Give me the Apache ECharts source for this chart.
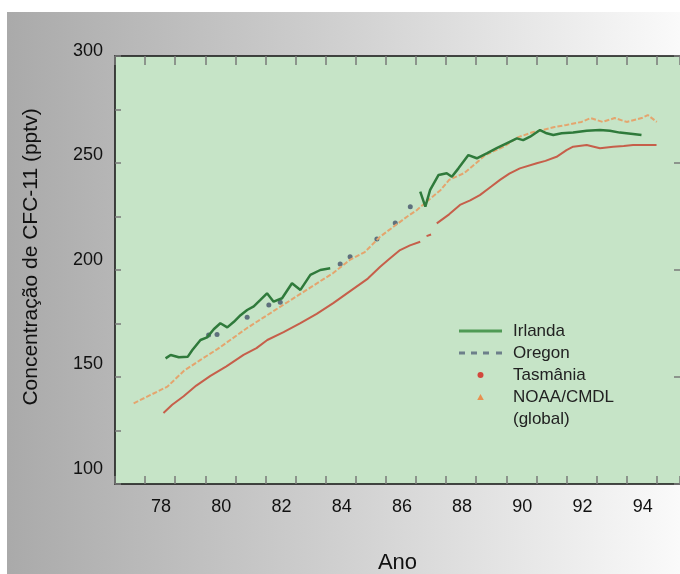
<!DOCTYPE html>
<html><head><meta charset="utf-8">
<script src="https://cdn.jsdelivr.net/npm/echarts@6/dist/echarts.min.js"></script>
<style>html,body{margin:0;padding:0;background:#fff}#c{width:680px;height:574px}</style>
</head><body><div id="c"></div>
<script>
// ---- tick labels ----
const xTickLabels = ['78','80','82','84','86','88','90','92','94'];
const yTickLabels = ['100','150','200','250','300'];

// ---- Irlanda (green line) ----
const irlandaAno   = [78.68,78.85,79.12,79.42,79.57,79.84,80.06,80.28,80.50,80.73,80.95,81.17,81.39,81.61,81.83,82.05,82.27,82.55,82.88,83.16,83.49,83.82,84.15,85.6,
                      87.14,87.31,87.47,87.75,88.02,88.19,88.41,88.74,89.02,89.35,89.68,90.01,90.35,90.56,90.79,91.12,91.34,91.56,91.84,92.22,92.67,93.11,93.44,93.77,94.21,94.49];
const irlandaValor = [158.7,160.3,159.2,159.5,162.6,167.3,168.5,172.3,175.1,173.2,175.8,178.9,181.3,183.0,186.0,189.1,185.2,186.8,193.8,190.7,197.7,200.0,200.8,null,
                      236.6,229.6,237.4,244.4,245.2,243.6,247.5,253.7,252.2,254.5,256.9,259.2,261.5,260.7,262.3,265.4,263.9,263.1,263.9,264.2,265.1,265.4,265.1,264.2,263.6,263.1];

// ---- Oregon (dark dots) ----
const oregonAno   = [80.11,80.39,81.39,82.11,82.49,84.48,84.81,85.70,86.31,86.81];
const oregonValor = [169.6,169.9,177.9,183.6,184.9,202.8,206.2,214.5,222.0,229.6];

// ---- Tasmânia (red line) ----
const tasmaniaAno   = [78.61,78.90,79.28,79.70,80.17,80.70,81.27,81.70,82.06,82.60,83.16,83.70,84.25,84.80,85.40,85.81,86.10,86.47,86.80,87.14,87.25,87.35,87.50,87.58,
                       87.69,88.10,88.46,88.80,89.12,89.50,89.79,90.10,90.45,91.01,91.30,91.67,92.00,92.22,92.67,93.11,93.55,93.90,94.21,94.99];
const tasmaniaValor = [133.2,137.0,141.0,146.0,150.5,155.0,160.3,163.5,167.3,171.0,175.2,179.5,184.5,190.0,196.0,201.5,205.0,209.3,211.5,213.2,null,215.8,216.6,null,
                       221.8,226.0,230.4,232.5,235.0,239.0,242.1,245.0,247.5,249.9,251.0,252.9,256.0,257.6,258.4,256.9,257.6,258.0,258.4,258.4];

// ---- NOAA/CMDL global (orange) ----
const noaaAno   = [77.62,78.18,78.74,79.30,79.84,80.40,80.90,81.40,81.90,82.40,82.90,83.40,83.90,84.25,84.80,85.30,85.81,86.25,86.70,87.03,87.40,87.82,88.10,88.60,
                   89.00,89.30,89.90,90.40,90.90,91.20,91.60,92.00,92.50,92.80,93.20,93.60,94.00,94.50,94.70,95.00];
const noaaValor = [137.7,141.6,145.5,153.0,158.0,163.0,168.0,173.0,177.5,182.0,186.5,191.0,195.5,198.6,204.7,208.4,215.6,220.2,224.9,228.0,232.5,237.4,242.1,245.3,
                   250.0,253.7,257.5,262.1,264.5,265.4,266.8,267.8,269.2,271.0,269.2,271.0,269.2,271.0,272.4,269.2];

const pairs = (xs, ys) => xs.map((x, i) => [x, ys[i] === null ? '-' : ys[i]]);

const FONT = 'Liberation Sans, Arial, sans-serif';
const yShift = {300:'a', 250:'b', 200:'c', 150:'d', 100:'e'};
const richY = {
  a:{fontSize:18, fontFamily:FONT, color:'#111', padding:[0,0,10,0]},
  b:{fontSize:18, fontFamily:FONT, color:'#111', padding:[0,0,16,0]},
  c:{fontSize:18, fontFamily:FONT, color:'#111', padding:[0,0,19,0]},
  d:{fontSize:18, fontFamily:FONT, color:'#111', padding:[0,0,26,0]},
  e:{fontSize:18, fontFamily:FONT, color:'#111', padding:[0,0,29,0]}
};

const chart = echarts.init(document.getElementById('c'), null, {renderer:'canvas'});
chart.setOption({
  animation: false,
  backgroundColor: {type:'linear', x:0, y:0, x2:1, y2:0,
    colorStops:[{offset:0, color:'#a9a9a9'}, {offset:0.5, color:'#d0d0d0'}, {offset:1, color:'#fafafa'}]},
  textStyle: {fontFamily: FONT},
  graphic: [
    {type:'rect', silent:true, shape:{x:0, y:0, width:680, height:12}, style:{fill:'#ffffff'}},
    {type:'rect', silent:true, shape:{x:0, y:0, width:7, height:574}, style:{fill:'#ffffff'}}
  ],
  grid: {left:115, top:56, right:0, bottom:90, show:true, backgroundColor:'#c6e4c7', borderWidth:0,
         containLabel:false, outerBoundsMode:'none'},
  legend: {
    orient:'vertical', left:454, top:315, itemWidth:43, itemHeight:6, itemGap:0,
    symbolKeepAspect:true,
    textStyle:{fontSize:17, fontFamily:FONT, color:'#222', lineHeight:22, padding:[0,0,0,6]},
    selectedMode:false,
    data:[
      {name:'Irlanda', icon:'path://M0,0h43v3h-43z', itemStyle:{color:'#4f9a55', borderWidth:0}},
      {name:'Oregon', icon:'path://M0,0h6v3h-6z M12,0h6v3h-6z M24,0h6v3h-6z M37,0h6v3h-6z', itemStyle:{color:'#56657b', borderWidth:0}},
      {name:'Tasmânia', icon:'circle', itemStyle:{color:'#d2483c', borderWidth:0}},
      {name:'NOAA/CMDL', icon:'path://M3,0L6,5.5L0,5.5Z', itemStyle:{color:'#e8904f', borderWidth:0}},
      {name:'(global)', icon:'rect', itemStyle:{color:'rgba(0,0,0,0)', borderWidth:0}}
    ]
  },
  xAxis: [
    {type:'value', position:'bottom', min:77, max:95.77, interval:1,
     axisLine:{show:true, onZero:false, lineStyle:{color:'#111', width:1.5}},
     axisTick:{show:true, inside:true, length:8, lineStyle:{color:'#7a7a7a', width:1.5}},
     splitLine:{show:false},
     axisLabel:{margin:14, fontSize:18, color:'#111', fontFamily:FONT,
       formatter: v => xTickLabels.indexOf(String(v)) >= 0 ? '{s|' + v + '}' : '',
       rich:{s:{fontSize:18, fontFamily:FONT, color:'#111', padding:[0,0,0,32]}}},
     name:'Ano', nameLocation:'middle', nameGap:68,
     nameTextStyle:{fontSize:22, fontFamily:FONT, color:'#111'}},
    {type:'value', position:'top', min:77, max:95.77, interval:1,
     axisLine:{show:true, onZero:false, lineStyle:{color:'#111', width:1.5}},
     axisTick:{show:true, inside:true, length:9, lineStyle:{color:'#7a7a7a', width:1.5}},
     splitLine:{show:false}, axisLabel:{show:false}}
  ],
  yAxis: [
    {type:'value', position:'left', min:100, max:300, interval:25,
     axisLine:{show:true, onZero:false, lineStyle:{color:'#111', width:1.5}},
     axisTick:{show:true, inside:true, length:6, lineStyle:{color:'#7a7a7a', width:1.5}},
     splitLine:{show:false},
     axisLabel:{margin:12, fontSize:18, color:'#111', fontFamily:FONT,
       formatter: v => yTickLabels.indexOf(String(v)) >= 0 ? '{' + yShift[v] + '|' + v + '}' : '',
       rich: richY},
     name:'Concentração de CFC-11 (pptv)', nameLocation:'middle', nameGap:73,
     nameTextStyle:{fontSize:21, fontFamily:FONT, color:'#111', padding:[0,0,0,26]}},
    {type:'value', position:'right', min:100, max:300, interval:50,
     axisLine:{show:false},
     axisTick:{show:true, inside:true, length:6, lineStyle:{color:'#7a7a7a', width:1.5}},
     splitLine:{show:false}, axisLabel:{show:false}}
  ],
  series: [
    {name:'Tasmânia', type:'line', xAxisIndex:0, yAxisIndex:0, symbol:'none', connectNulls:false,
     itemStyle:{color:'#d2483c'}, lineStyle:{color:'#c65f4a', width:2},
     data: pairs(tasmaniaAno, tasmaniaValor)},
    {name:'NOAA/CMDL', type:'line', xAxisIndex:0, yAxisIndex:0, symbol:'none',
     itemStyle:{color:'#e8904f'}, lineStyle:{color:'#e4a56e', width:2, type:[5,2]},
     data: pairs(noaaAno, noaaValor)},
    {name:'Oregon', type:'scatter', xAxisIndex:0, yAxisIndex:0, symbol:'circle', symbolSize:5,
     itemStyle:{color:'#44526a'},
     data: pairs(oregonAno, oregonValor)},
    {name:'Irlanda', type:'line', xAxisIndex:0, yAxisIndex:0, symbol:'none', connectNulls:false,
     itemStyle:{color:'#4f9a55'}, lineStyle:{color:'#2f7a3b', width:2.5},
     data: pairs(irlandaAno, irlandaValor)},
    {name:'(global)', type:'line', data:[], symbol:'none'}
  ]
});
</script></body></html>
